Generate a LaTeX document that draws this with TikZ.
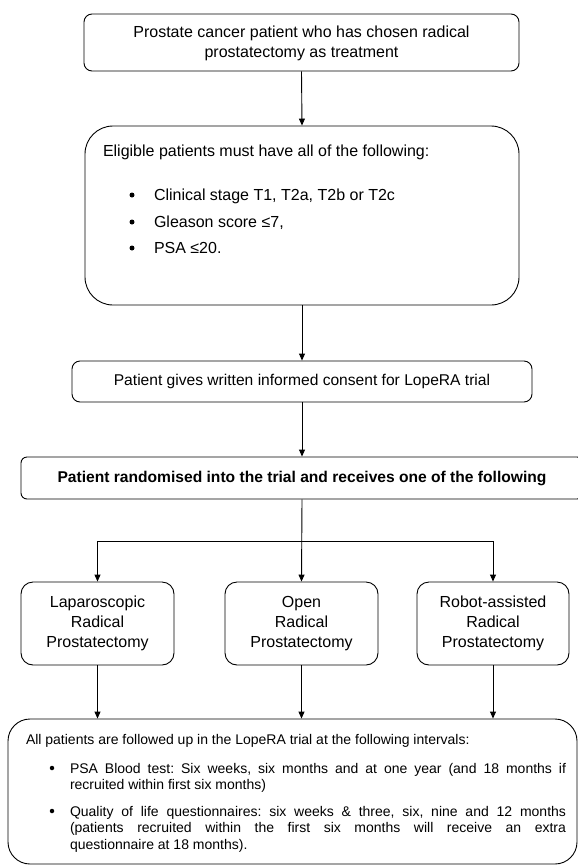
\documentclass[tikz,border=0pt]{standalone}
\usepackage{fontspec}
\setmainfont{Liberation Sans}
\usetikzlibrary{arrows.meta,calc}
\frenchspacing
\begin{document}
\begin{tikzpicture}[x=1pt,y=-1pt,
  box/.style={draw=black,line width=0.9pt,inner sep=0pt,rounded corners=#1},
  arr/.style={draw=black,line width=0.9pt,-{Triangle[width=6pt,length=7pt]}},
  ln/.style={draw=black,line width=0.9pt},
  fa/.style={font=\fontsize{16}{20}\selectfont},
  fb/.style={font=\fontsize{15.6}{19}\selectfont},
  fbb/.style={font=\fontsize{15.6}{19}\selectfont\bfseries},
  fc/.style={font=\fontsize{14}{16.8}\selectfont},
  txt/.style={inner sep=0pt,outer sep=0pt},
  dot/.style={circle,fill=black,inner sep=0pt,minimum size=#1},
]
\useasboundingbox (0,0) rectangle (578,868);

% boxes
\node[box=8pt,minimum width=435pt,minimum height=57pt] (b1) at (301.5,42.5) {};
\node[txt,fa,align=center] (t1) at (301.5,43) {Prostate cancer patient who has chosen radical\\prostatectomy as treatment};

\node[box=28pt,minimum width=434pt,minimum height=179pt] (b2) at (302,215.5) {};
\node[txt,fa,anchor=base west] (t2) at (103,156.5) {Eligible patients must have all of the following:};
\node[dot=5pt] (u1) at (132,195) {};
\node[txt,fa,anchor=base west] (t2a) at (154,200.5) {Clinical stage T1, T2a, T2b or T2c};
\node[dot=5pt] (u2) at (132,222) {};
\node[txt,fa,anchor=base west] (t2b) at (154,227.5) {Gleason score ≤7,};
\node[dot=5pt] (u3) at (132,248) {};
\node[txt,fa,anchor=base west] (t2c) at (154,253.5) {PSA ≤20.};

\node[box=8pt,minimum width=460pt,minimum height=41pt,fb] (b3) at (302,381.5) {Patient gives written informed consent for LopeRA trial};

\node[box=6pt,minimum width=562pt,minimum height=42pt,fbb] (b4) at (302,478) {Patient randomised into the trial and receives one of the following};

\node[box=12pt,minimum width=153pt,minimum height=83pt,fa,align=center] (L) at (97.5,623.5) {Laparoscopic\\Radical\\Prostatectomy};
\node[box=12pt,minimum width=153pt,minimum height=83pt,fa,align=center] (O) at (301.5,623.5) {Open\\Radical\\Prostatectomy};
\node[box=12pt,minimum width=152pt,minimum height=83pt,fa,align=center] (R) at (493,623.5) {Robot-assisted\\Radical\\Prostatectomy};

\node[box=22pt,minimum width=569pt,minimum height=145pt] (fin) at (292.5,791.5) {};
\node[txt,fc,anchor=base west] (f0) at (26,744) {All patients are followed up in the LopeRA trial at the following intervals:};
\node[dot=4.5pt] (v1) at (52,768) {};
\node[txt,fc,anchor=base west,text width=496pt,align=justify] (f1) at (70,773) {\hyphenpenalty=10000 PSA Blood test: Six weeks, six months and at one year (and 18 months if\linebreak recruited within first six months)};
\node[dot=4.5pt] (v2) at (52,811) {};
\node[txt,fc,anchor=base west,text width=496pt,align=justify] (f2) at (70,816) {\hyphenpenalty=10000 Quality of life questionnaires: six weeks \& three, six, nine and 12 months\linebreak (patients recruited within the first six months will receive an extra\linebreak questionnaire at 18 months).};

% connectors
\draw[arr] (b1.south) -- (b2.north);
\draw[arr] (b2.south) -- (b3.north);
\draw[arr] (b3.south) -- (b4.north);
\coordinate (sp) at (302,541);
\draw[arr] (b4.south) -- (O.north);
\draw[arr] (sp) -| (L.north);
\draw[arr] (sp) -| (R.north);
\draw[arr] (L.south) -- (L.south |- fin.north);
\draw[arr] (O.south) -- (O.south |- fin.north);
\draw[arr] (R.south) -- (R.south |- fin.north);
\end{tikzpicture}
\end{document}
